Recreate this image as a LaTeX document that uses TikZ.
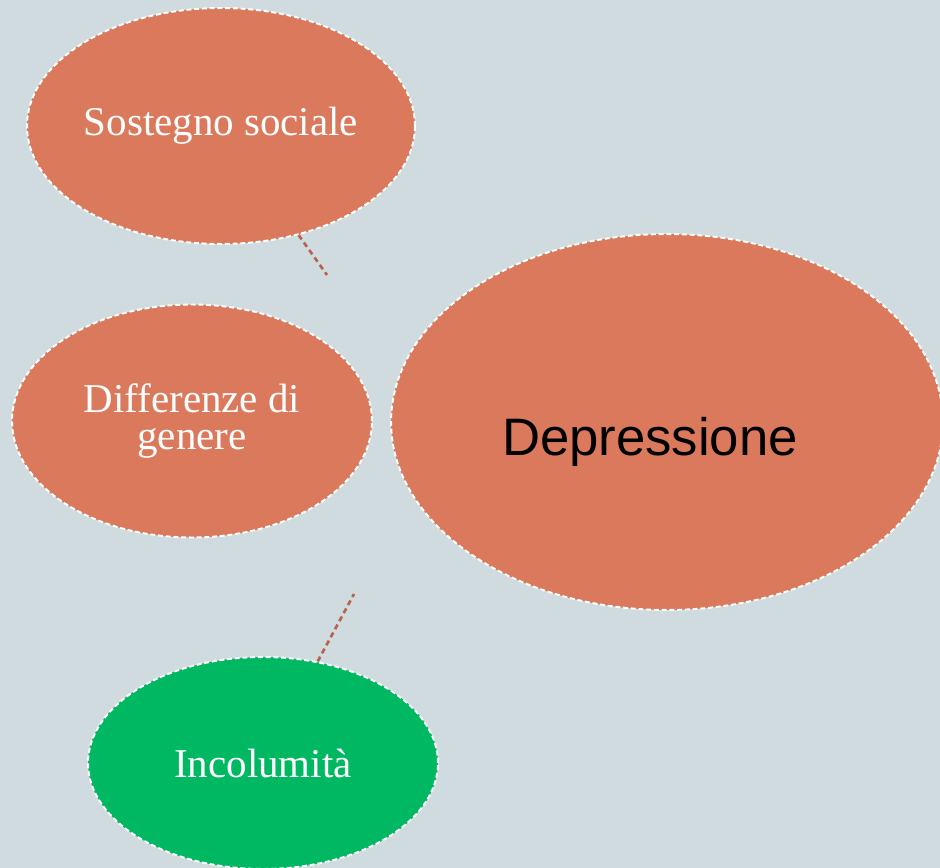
\documentclass[tikz,border=0pt]{standalone}
\usepackage{fontspec}
\setmainfont{Liberation Serif}
\setsansfont{Liberation Sans}
\usetikzlibrary{shapes.geometric}
\definecolor{bgcol}{RGB}{207,219,222}
\definecolor{bubblecol}{RGB}{219,121,92}
\definecolor{greencol}{RGB}{0,184,98}
\definecolor{linkcol}{RGB}{184,98,76}
\begin{document}
\begin{tikzpicture}[x=0.02cm,y=-0.02cm]
	\tikzset{bubble/.style = {shape=ellipse,fill=bubblecol,draw=white,line width=1.1pt,dash pattern=on 2.8pt off 1.6pt,inner sep=0pt,text=white,font=\fontsize{23.3}{21.5}\selectfont,align=center}}
	\tikzset{link/.style = {draw=linkcol,line width=1.5pt,dash pattern=on 3pt off 2.2pt}}
	\fill[bgcol] (0,0) rectangle (940,868);
	\clip (0,0) rectangle (940,868);
	\node[bubble,minimum width=7.76cm,minimum height=4.72cm] (ss) at (221,126) {Sostegno sociale};
	\node[bubble,minimum width=7.2cm,minimum height=4.66cm] (dg) at (192,421) {Differenze di\\genere};
	\node[bubble,minimum width=11.04cm,minimum height=7.52cm] (dep) at (667,422) {};
	\node[text=black,font=\sffamily\fontsize{30}{36}\selectfont] (deplabel) at (650,442) {Depressione};
	\node[bubble,fill=greencol,minimum width=7cm,minimum height=4.24cm] (inc) at (263,763) {Incolumità};
	\coordinate (c1) at (327,275);
	\coordinate (c2) at (354,594);
	\path[link] (ss) -- (c1);
	\path[link] (inc) -- (c2);
\end{tikzpicture}
\end{document}
